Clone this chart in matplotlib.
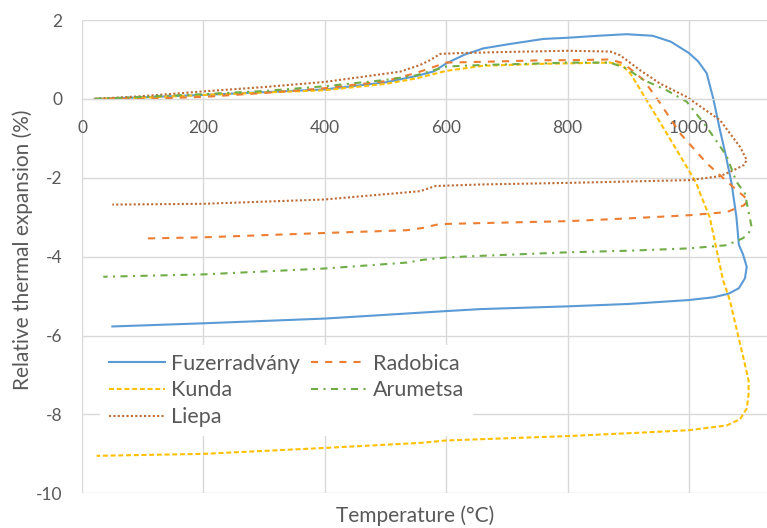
import matplotlib
matplotlib.use("Agg")
import matplotlib.pyplot as plt

# heating branch followed by cooling branch
fuz_t = [21, 100, 200, 300, 400, 500, 551, 580, 600, 630, 661, 700, 760, 800, 850, 897,
         940, 970, 1000, 1015, 1029, 1040, 1051, 1060, 1070, 1078, 1082, 1089, 1095,
         1092, 1082, 1065, 1040, 1000, 900, 800, 656, 600, 400, 200, 50]
fuz_v = [0, 0.04, 0.1, 0.17, 0.24, 0.42, 0.58, 0.7, 0.9, 1.12, 1.28, 1.38, 1.52, 1.55, 1.6, 1.64,
         1.6, 1.45, 1.16, 0.95, 0.65, 0.0, -0.8, -1.4, -2.14, -3.0, -3.7, -3.95, -4.26,
         -4.55, -4.8, -4.94, -5.03, -5.1, -5.2, -5.26, -5.33, -5.38, -5.57, -5.69, -5.77]

rad_t = [21, 100, 200, 300, 400, 500, 551, 600, 661, 760, 800, 870, 892, 925, 952, 985,
         1029, 1073, 1085, 1098, 1090, 1062, 1000, 900, 800, 656, 600, 584, 562, 535,
         400, 200, 100]
rad_v = [0, 0.0, 0.05, 0.15, 0.27, 0.45, 0.66, 0.92, 0.94, 0.98, 0.98, 1.0, 0.9, 0.48, -0.1, -0.87,
         -1.63, -2.24, -2.4, -2.57, -2.7, -2.87, -2.95, -3.03, -3.1, -3.15, -3.17, -3.19, -3.27, -3.33,
         -3.4, -3.51, -3.54]

kun_t = [21, 100, 200, 300, 400, 500, 551, 600, 661, 760, 800, 870, 890, 903, 915, 930,
         963, 996, 1012, 1018, 1034, 1045, 1056, 1067, 1080, 1090, 1098, 1098, 1095, 1084,
         1062, 1000, 936, 800, 600, 560, 400, 200, 24]
kun_v = [0, 0.03, 0.1, 0.16, 0.22, 0.38, 0.52, 0.71, 0.84, 0.89, 0.9, 0.92, 0.85, 0.65, 0.35, -0.03,
         -0.87, -1.72, -2.14, -2.39, -3.0, -3.8, -4.6, -5.1, -5.95, -6.6, -7.14, -7.5, -7.85, -8.12,
         -8.28, -8.4, -8.45, -8.55, -8.66, -8.72, -8.85, -9.0, -9.05]

aru_t = [21, 100, 200, 300, 400, 500, 551, 600, 661, 760, 800, 870, 897, 925, 963, 996,
         1029, 1062, 1078, 1092, 1103, 1098, 1089, 1062, 1000, 900, 800, 656, 600, 562, 535,
         400, 200, 35]
aru_v = [0, 0.05, 0.12, 0.2, 0.32, 0.48, 0.6, 0.82, 0.86, 0.9, 0.92, 0.92, 0.77, 0.48, 0.22, -0.07,
         -0.71, -1.45, -2.1, -2.4, -3.25, -3.4, -3.53, -3.71, -3.79, -3.85, -3.89, -3.98, -4.02, -4.08, -4.15,
         -4.3, -4.45, -4.51]

lie_t = [21, 100, 200, 300, 400, 524, 557, 573, 590, 620, 700, 800, 870, 886, 919, 952,
         996, 1051, 1084, 1095, 1090, 1073, 1051, 1000, 800, 656, 600, 582, 557, 400, 200, 50]
lie_v = [0, 0.07, 0.19, 0.3, 0.43, 0.69, 0.86, 0.98, 1.14, 1.16, 1.19, 1.22, 1.2, 1.11, 0.73, 0.39,
         0.05, -0.54, -1.22, -1.55, -1.68, -1.81, -1.96, -2.06, -2.13, -2.17, -2.2, -2.21, -2.34,
         -2.55, -2.66, -2.68]

x_ticks = [0, 200, 400, 600, 800, 1000]
y_ticks = [-10, -8, -6, -4, -2, 0, 2]

plt.rcParams["font.family"] = ["Lato", "DejaVu Sans"]
plt.rcParams["axes.unicode_minus"] = False
grey = "#595959"

fig = plt.figure(figsize=(7.67, 5.28), dpi=100)
ax = fig.add_axes([82 / 767, 34.7 / 528, 728.5 / 767, 473.3 / 528])

ax.plot(fuz_t, fuz_v, color="#5B9BD5", lw=1.5, label="Fuzerradvány")
ax.plot(kun_t, kun_v, color="#FFC000", lw=1.5, ls=(0, (2.4, 1.3)), label="Kunda")
ax.plot(lie_t, lie_v, color="#BD6B35", lw=1.5, ls=(0, (1, 1.1)), label="Liepa")
ax.plot(rad_t, rad_v, color="#ED7D31", lw=1.5, ls=(0, (3.4, 3.4)), label="Radobica")
ax.plot(aru_t, aru_v, color="#70AD47", lw=1.5, ls=(0, (3.4, 2.6, 1, 2.6)), label="Arumetsa")

ax.set_xlim(0, 1200)
ax.set_ylim(-10, 2)
ax.set_xticks(x_ticks)
ax.set_yticks(y_ticks)
ax.grid(True, color="#D9D9D9", lw=1.0)
ax.set_axisbelow(True)
for s in ["top", "right", "left"]:
    ax.spines[s].set_visible(False)
ax.spines["bottom"].set_position(("data", 0))
ax.spines["bottom"].set_color("#D9D9D9")
ax.tick_params(axis="x", length=0, pad=15, labelsize=12.5, labelcolor=grey)
ax.tick_params(axis="y", length=0, pad=14, labelsize=12.5, labelcolor=grey)

fig.text(23 / 767, 1 - 250 / 528, "Relative thermal expansion (%)", rotation=90,
         ha="center", va="center", fontsize=15, color=grey)
fig.text(415 / 767, 1 - 516 / 528, "Temperature (°C)", ha="center", va="center",
         fontsize=15, color=grey)

leg = ax.legend(loc="upper left", bbox_to_anchor=(100 / 767, 1 - 345 / 528),
                bbox_transform=fig.transFigure, ncol=2, fontsize=15.5, frameon=True,
                handlelength=2.6, handletextpad=0.3, columnspacing=0.5, labelspacing=0.32,
                borderaxespad=0)
leg.get_frame().set_facecolor("white")
leg.get_frame().set_edgecolor("none")
leg.get_frame().set_alpha(1)
for t in leg.get_texts():
    t.set_color(grey)

fig.savefig("out.png", dpi=100)
